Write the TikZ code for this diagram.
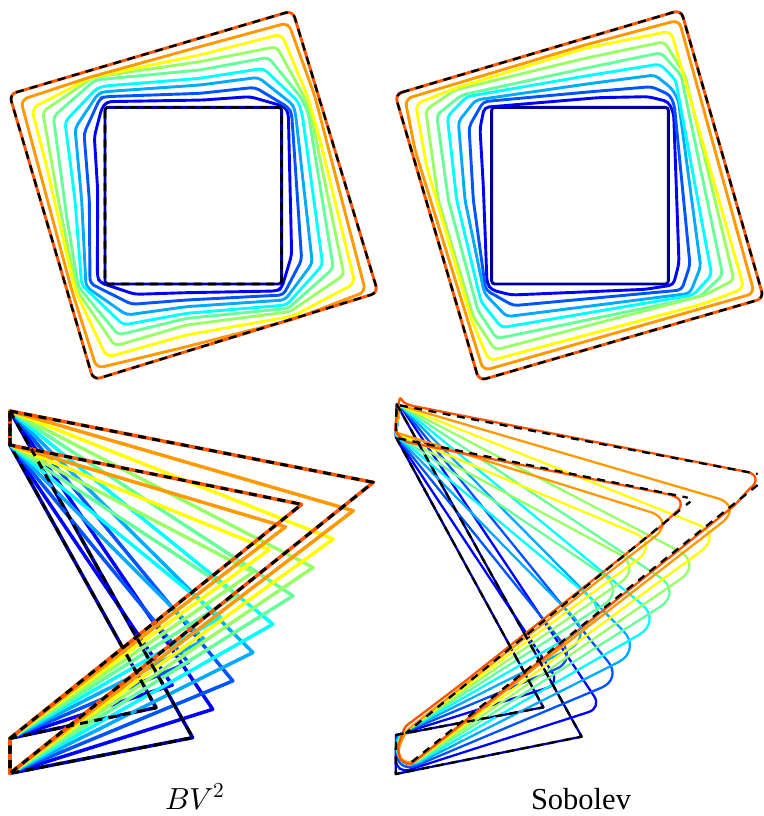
\documentclass[tikz,border=0pt]{standalone}
\usepackage{fontspec}
\setmainfont{Liberation Serif}
\usepackage{unicode-math}
\setmathfont{Latin Modern Math}
\usetikzlibrary{calc}
\definecolor{c0}{rgb}{0,0,.6}
\definecolor{c1}{rgb}{0,0,1}
\definecolor{c2}{rgb}{0,.33,1}
\definecolor{c3}{rgb}{0,.67,1}
\definecolor{c4}{rgb}{0,1,1}
\definecolor{c5}{rgb}{.4,1,.6}
\definecolor{c6}{rgb}{.6,1,.4}
\definecolor{c7}{rgb}{1,1,0}
\definecolor{c8}{rgb}{1,.6,0}
\definecolor{c9}{rgb}{1,.33,0}
\tikzset{
 panel/.style={x=0.33333pt,y=-0.33333pt,line join=round,line cap=butt},
 sq/.style={line width=2.9pt,rounded corners=4.5pt},
 sqb/.style={line width=2.9pt,rounded corners=7pt},
 zz/.style={line width=3.5pt},
 thin4/.style={line width=2.3pt},
 blk/.style={black,dash pattern=on 8pt off 6.5pt},
 caption/.style={anchor=base,inner sep=0pt,font=\fontsize{30.5}{36}\selectfont}
}
\begin{document}
\begin{tikzpicture}[x=1pt,y=-1pt]
\path[use as bounding box,fill=white] (0,0) rectangle (763,816);

% ---- top left : BV2
\begin{scope}[panel]
\draw[sq,c0,rounded corners=3pt] (315,322) rectangle (845,852);
\draw[sq,c1] (283,410) -- (305,325) -- (320,305) -- (610,300) -- (750,290) -- (855,320) -- (865,340) -- (875,765) -- (845,865) -- (830,873) -- (560,878) -- (405,883) -- (300,848) -- (292,830) -- (293,570) -- cycle;
\draw[sq,c2] (252,400) -- (300,295) -- (315,290) -- (600,280) -- (765,262) -- (865,322) -- (875,340) -- (905,780) -- (850,885) -- (560,900) -- (395,913) -- (270,850) -- (268,600) -- cycle;
\draw[sq,c3] (225,385) -- (295,280) -- (315,275) -- (600,255) -- (775,232) -- (880,315) -- (887,345) -- (937,790) -- (855,900) -- (560,920) -- (380,945) -- (258,860) -- (245,600) -- cycle;
\draw[sq,c4] (195,365) -- (290,265) -- (315,258) -- (600,235) -- (790,205) -- (895,305) -- (907,345) -- (968,795) -- (860,915) -- (560,940) -- (370,975) -- (245,855) -- (225,600) -- cycle;
\draw[sq,c5] (160,350) -- (285,240) -- (600,210) -- (805,172) -- (905,295) -- (925,340) -- (1000,805) -- (865,925) -- (560,955) -- (355,1005) -- (235,860) -- (200,650) -- cycle;
\draw[sq,c6] (128,335) -- (280,232) -- (600,185) -- (830,140) -- (915,295) -- (932,340) -- (1032,825) -- (870,935) -- (560,975) -- (345,1038) -- (230,870) -- (175,600) -- cycle;
\draw[sqb,c7] (95,325) -- (275,232) -- (600,165) -- (845,102) -- (925,295) -- (960,420) -- (1065,850) -- (880,948) -- (560,1005) -- (320,1072) -- (225,870) -- (140,500) -- cycle;
\draw[sqb,c8] (62,300) -- (268,232) -- (600,140) -- (865,68) -- (945,290) -- (1097,875) -- (880,958) -- (560,1040) -- (290,1105) -- (215,870) -- (110,480) -- cycle;
\draw[line width=2.9pt,rounded corners=7pt,c9] (28,283) -- (878,32) -- (1134,878) -- (280,1140) -- cycle;
\draw[line width=2.4pt,rounded corners=7pt,blk] (28,283) -- (878,32) -- (1134,878) -- (280,1140) -- cycle;
\draw[line width=2.6pt,rounded corners=3pt,blk] (315,322) rectangle (845,852);
\end{scope}

% ---- top right : Sobolev
\begin{scope}[panel,xshift=385pt]
\draw[sq,c0,rounded corners=3pt] (320,322) rectangle (850,852);
\draw[sq,c1] (285,385) -- (298,322) -- (640,293) -- (790,290) -- (850,305) -- (866,340) -- (882,790) -- (865,855) -- (780,868) -- (380,885) -- (320,870) -- (306,850) -- (295,560) -- cycle;
\draw[sq,c2] (252,380) -- (295,305) -- (620,275) -- (800,260) -- (855,285) -- (868,315) -- (915,795) -- (890,870) -- (385,917) -- (302,870) -- (265,600) -- cycle;
\draw[sq,c3] (220,365) -- (272,300) -- (620,250) -- (810,225) -- (860,265) -- (880,300) -- (947,800) -- (915,880) -- (365,950) -- (298,880) -- (240,600) -- cycle;
\draw[sq,c4] (187,350) -- (245,290) -- (620,225) -- (825,192) -- (872,240) -- (980,825) -- (925,885) -- (350,983) -- (288,905) -- (215,600) -- cycle;
\draw[sq,c5] (155,345) -- (230,285) -- (600,205) -- (828,158) -- (888,225) -- (1013,825) -- (945,890) -- (335,1016) -- (278,930) -- (190,600) -- cycle;
\draw[sq,c6] (122,330) -- (210,270) -- (600,175) -- (838,125) -- (900,225) -- (1047,840) -- (960,885) -- (330,1050) -- (265,950) -- (160,600) -- cycle;
\draw[sqb,c7] (92,312) -- (210,265) -- (600,145) -- (858,93) -- (1077,865) -- (960,910) -- (312,1083) -- (260,960) -- (125,500) -- cycle;
\draw[sqb,c8] (60,297) -- (600,135) -- (882,60) -- (1108,880) -- (295,1112) -- (90,450) -- cycle;
\draw[line width=2.9pt,rounded corners=7pt,c9] (30,283) -- (888,30) -- (1136,895) -- (282,1142) -- cycle;
\draw[line width=2.4pt,rounded corners=7pt,blk] (30,283) -- (888,30) -- (1136,895) -- (282,1142) -- cycle;
\end{scope}

% ---- bottom left : BV2
\begin{scope}[panel,xshift=0pt,yshift=-395pt]
\coordinate (a) at (30,48);
\coordinate (d) at (30,150);
\coordinate (e) at (30,1030);
\coordinate (f) at (30,1135);
\coordinate (ti) at (578,1028);
\coordinate (to) at (1120,262);
\coordinate (ui) at (468,938);
\coordinate (uo) at (905,328);
\draw[zz,c0] (a) -- (ti) -- (f) -- (e) -- (ui) -- (d) -- cycle;
\foreach \k/\c in {1/c1,2/c2,3/c3,4/c4,5/c5,6/c6,7/c7,8/c8,9/c9}{
  \pgfmathsetmacro{\t}{\k/9}
  \draw[zz,\c] (a) -- ($(ti)!\t!(to)$) -- (f) -- (e) -- ($(ui)!\t!(uo)$) -- (d) -- cycle;
}
\draw[line width=3pt,blk] (a) -- (to) -- (f) -- (e) -- (uo) -- (d) -- cycle;
\draw[line width=3pt,blk] (a) -- (ti) -- (f) -- (e) -- (ui) -- (d) -- cycle;
\end{scope}

% ---- bottom right : Sobolev
\begin{scope}[panel,xshift=385pt,yshift=-390pt]
\coordinate (sa) at (45,46);
\coordinate (sai) at (35,42);
\coordinate (sdi) at (32,140);
\coordinate (sdo) at (30,125);
\coordinate (sei) at (33,1035);
\coordinate (seo) at (41,1041);
\coordinate (sfi) at (32,1152);
\coordinate (sfo) at (41,1152);
\coordinate (sti) at (590,1040);
\coordinate (sto) at (1136,261);
\coordinate (sui) at (475,952);
\coordinate (suo) at (923,320);
\draw[thin4,c0] (sai) -- (sti) -- (sfi) -- (sei) -- (sui) -- (sdi) -- cycle;
\foreach \k/\c in {1/c1,2/c2,3/c3,4/c4,5/c5,6/c6,7/c7,8/c8}{
  \pgfmathsetmacro{\t}{\k/9}
  \pgfmathsetmacro{\rt}{min(6+\k*8,27)}
  \pgfmathsetmacro{\rl}{\k*2.25}
  \draw[thin4,\c,rounded corners=\rt pt] (sa) -- ($(sti)!\t!(sto)$) -- ($(sfi)!\t!(sfo)$) [rounded corners=\rl pt] -- ($(sei)!\t!(seo)$) [rounded corners=\rt pt] -- ($(sui)!\t!(suo)$) [rounded corners=2pt] -- ($(sdi)!\t!(sdo)$) -- cycle;
}
\draw[thin4,c9,rounded corners=3pt] (30,125) -- (35,70) -- (45,20) -- (55,38) -- (80,47) -- (1098,248) -- (1113,262) -- (1110,282) -- (1090,300) -- (1050,345) -- (100,1105) -- (75,1125) -- (45,1110) -- (38,1070) -- (60,1010) -- (120,965) -- (245,870) -- (830,407) -- (888,352) -- (885,328) -- (860,315) -- (60,155) -- cycle;
\draw[thin4,blk] (sa) -- (1118,252);
\draw[thin4,blk] (1118,285) -- (65,1128);
\draw[thin4,blk] (40,145) -- (908,323);
\draw[thin4,black] (916,335) -- (903,345);
\draw[thin4,blk] (885,360) -- (62,1030);
\draw[thin4,blk] (sai) -- (sti) -- (sfi) -- (sei) -- (sui) -- (sdi) -- cycle;
\end{scope}

\node[caption] (capa) at (195,809) {$BV^2$};
\node[caption] (capb) at (581,809) {Sobolev};
\end{tikzpicture}
\end{document}
